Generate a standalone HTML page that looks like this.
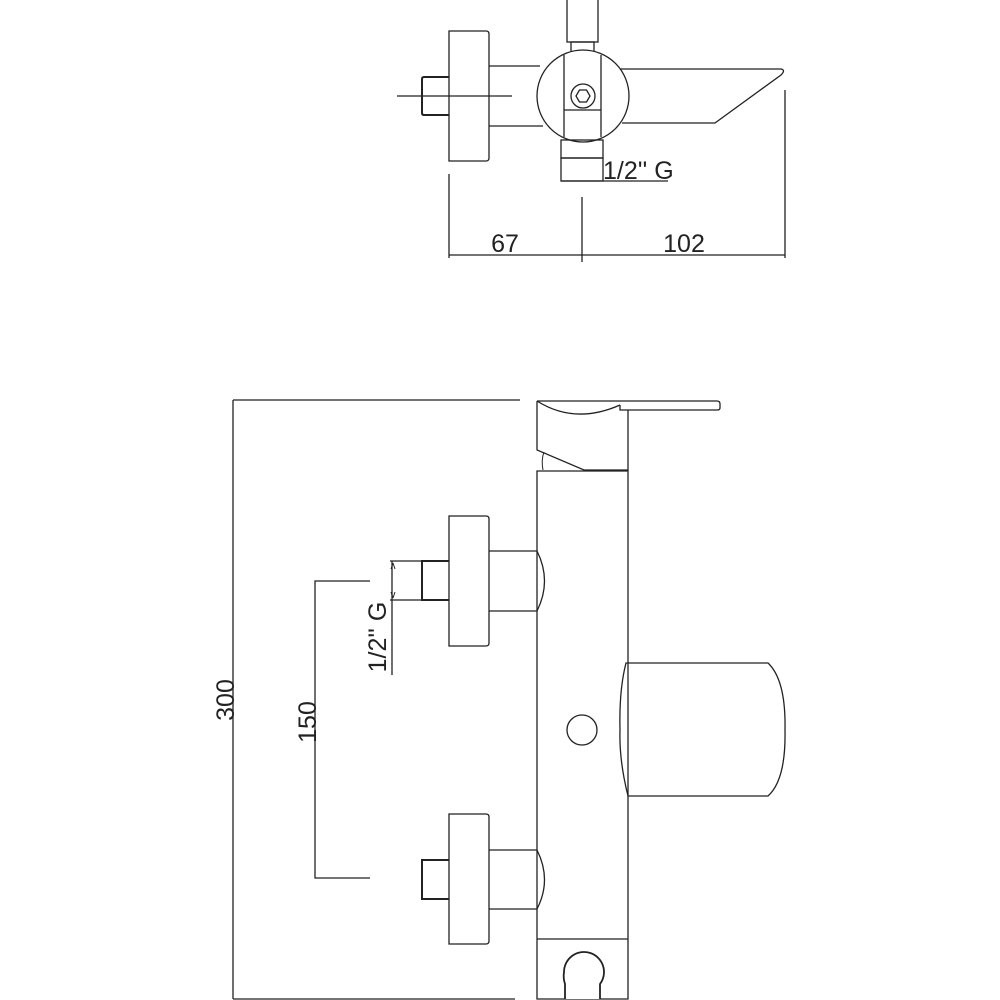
<!DOCTYPE html>
<html><head><meta charset="utf-8"><style>
html,body{margin:0;padding:0;background:#fff}
svg{display:block}
text{font-family:"Liberation Sans",Arial,sans-serif;fill:#222}
</style></head><body>
<svg width="1000" height="1000" viewBox="0 0 1000 1000" xmlns="http://www.w3.org/2000/svg" fill="none" stroke="#222" stroke-width="1.3">
<!-- TOP VIEW -->
<rect x="567" y="-2" width="31" height="44"/>
<rect x="571" y="42" width="23" height="10"/>
<path d="M489 66 H540 M489 126 H543"/>
<path d="M449 31 H486 Q489 31 489 34 V158 Q489 161 486 161 H449 Z"/>
<path d="M449 77 H424 Q422 77 422 79 V113 Q422 115 424 115 H449" stroke-width="2"/>
<line x1="397" y1="96" x2="512" y2="96"/>
<path d="M620 69 H781 Q786 70 781 75 L715 123 H622"/>
<circle cx="583" cy="96" r="46" fill="#fff"/>
<path d="M564 55 V137 M601 55 V137 M564 110 H601"/>
<circle cx="583" cy="96" r="12"/>
<polygon points="590,96 586.5,102 579.5,102 576,96 579.5,90 586.5,90"/>
<rect x="561" y="140" width="42" height="18"/>
<rect x="561" y="158" width="42" height="23"/>
<line x1="561" y1="181" x2="668" y2="181"/>
<text x="603" y="179" font-size="25" stroke="none">1/2'' G</text>
<path d="M449 174 V258 M582 197 V262 M785 90 V258 M449 255 H785"/>
<text x="505" y="252" font-size="25" stroke="none" text-anchor="middle">67</text>
<text x="684" y="252" font-size="25" stroke="none" text-anchor="middle">102</text>

<!-- FRONT VIEW -->
<path d="M233 400 H520 M233 400 V999 M233 999 H515"/>
<text transform="translate(234,700) rotate(-90)" font-size="25" stroke="none" text-anchor="middle">300</text>
<path d="M370 581 H315 V878 H370"/>
<text transform="translate(316,722) rotate(-90)" font-size="25" stroke="none" text-anchor="middle">150</text>
<path d="M390 561 H421 M390 600 H421 M392 561 V675"/>
<path d="M393 563 l-2 6 M393 563 l2 6 M393 598 l-2 -6 M393 598 l2 -6" stroke-width="1"/>
<text transform="translate(386,637) rotate(-90)" font-size="25" stroke="none" text-anchor="middle">1/2'' G</text>

<!-- head -->
<path d="M537 401 V450 L584 470 H628 V410"/>
<path d="M537 401 Q575 425 620 405"/>
<path d="M537 401 H717 Q720 401 720 404 V408 Q720 410 717 410 H620 V405"/>
<path d="M544 452 Q541 460 543 470" stroke-width="1"/>
<!-- body -->
<path d="M537 471 H628 V999 H537 Z"/>
<line x1="537" y1="939" x2="628" y2="939"/>
<path d="M565 999 V984 Q563 978 564 972 A20 20 0 1 1 600 984 V999" stroke-width="1.8" fill="#fff"/>
<circle cx="582" cy="730" r="15"/>
<!-- right box -->
<path d="M626 663 H768 Q786 680 785 730 Q786 780 768 796 H628 Q619 760 620 730 Q619 690 626 663 Z"/>
<!-- upper handle -->
<path d="M489 551 H537 Q552 581 537 611 H489"/>
<path d="M449 516 H486 Q489 516 489 519 V643 Q489 646 486 646 H449 Z"/>
<path d="M449 561 H422 V600 H449" stroke-width="2"/>
<!-- lower handle -->
<path d="M489 850 H537 Q552 880 537 909 H489"/>
<path d="M449 814 H486 Q489 814 489 817 V941 Q489 944 486 944 H449 Z"/>
<path d="M449 860 H422 V899 H449" stroke-width="2"/>
</svg>
</body></html>
